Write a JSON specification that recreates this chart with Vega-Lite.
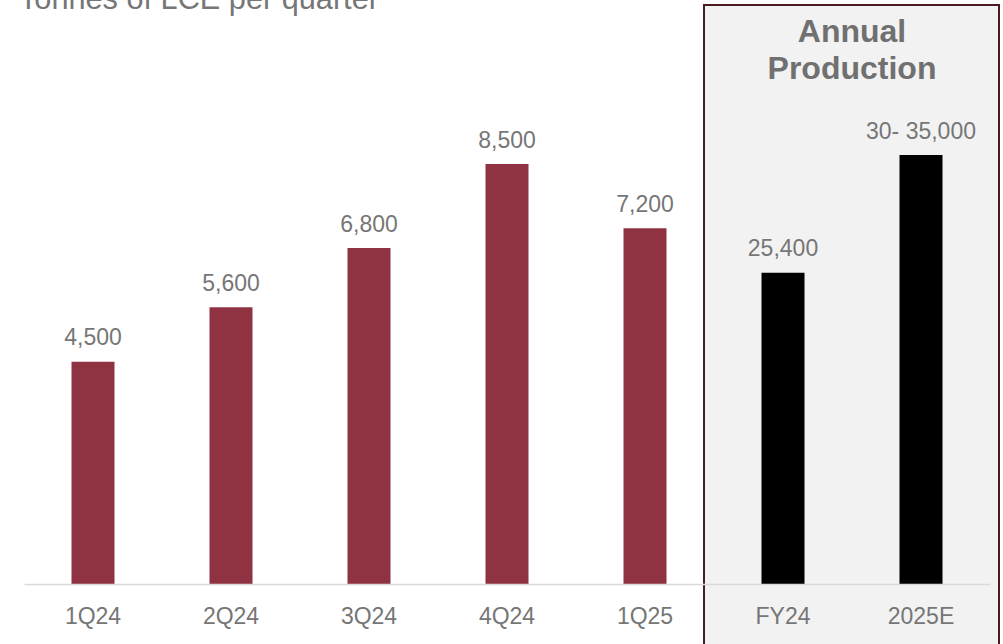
{
  "$schema": "https://vega.github.io/schema/vega-lite/v6.json",
  "width": 966,
  "height": 579,
  "autosize": "none",
  "padding": {"left": 24, "top": 5, "right": 13, "bottom": 60},
  "background": "white",
  "title": {
    "text": "Tonnes of LCE per quarter",
    "anchor": "start",
    "frame": "group",
    "baseline": "alphabetic",
    "offset": -36,
    "dx": -5,
    "font": "Liberation Sans",
    "fontSize": 30.7,
    "fontWeight": "normal",
    "color": "#767676"
  },
  "config": {
    "view": {"stroke": null},
    "text": {"font": "Liberation Sans"}
  },
  "datasets": {
    "quarterly": [
      {"period": "1Q24", "value": 4500, "label": "4,500"},
      {"period": "2Q24", "value": 5600, "label": "5,600"},
      {"period": "3Q24", "value": 6800, "label": "6,800"},
      {"period": "4Q24", "value": 8500, "label": "8,500"},
      {"period": "1Q25", "value": 7200, "label": "7,200"}
    ],
    "annual": [
      {"period": "FY24", "value": 25400, "label": "25,400"},
      {"period": "2025E", "value": 35000, "label": "30- 35,000"}
    ],
    "box": [
      {"start": "FY24", "end": "2025E", "label": "Annual\nProduction"}
    ]
  },
  "resolve": {"scale": {"y": "independent"}},
  "layer": [
    {
      "layer": [
        {
          "data": {"name": "box"},
          "mark": {"type": "rect", "fill": "#f2f2f2", "stroke": "#4a1c22", "strokeWidth": 2, "xOffset": -79, "x2Offset": 78},
          "encoding": {
            "x": {"field": "start", "type": "nominal", "sort": null, "scale": {"domain": ["1Q24", "2Q24", "3Q24", "4Q24", "1Q25", "FY24", "2025E"], "paddingInner": 0, "paddingOuter": 0},
              "axis": {"title": null, "labelAngle": 0, "labelFont": "Liberation Sans", "labelFontSize": 23, "labelColor": "#767676", "labelBaseline": "alphabetic", "labelPadding": 39, "ticks": false, "tickSize": 0, "domainColor": "#d9d9d9", "domainWidth": 1.5, "zindex": 1}},
            "x2": {"field": "end"},
            "y": {"datum": 47250, "type": "quantitative", "scale": {"domain": [0, 47250], "nice": false, "zero": false}, "axis": null},
            "y2": {"datum": -6000}
          }
        },
        {
          "data": {"name": "box"},
          "mark": {"type": "text", "align": "center", "baseline": "alphabetic", "fontSize": 32, "fontWeight": "bold", "color": "#707070", "lineBreak": "\n", "lineHeight": 37.6, "dy": 36.7},
          "encoding": {
            "x": {"field": "start", "type": "nominal", "bandPosition": 1},
            "y": {"datum": 47250, "type": "quantitative"},
            "text": {"field": "label"}
          }
        },
        {
          "data": {"name": "annual"},
          "mark": {"type": "bar", "width": 43, "color": "#000000"},
          "encoding": {
            "x": {"field": "period", "type": "nominal", "sort": null},
            "y": {"field": "value", "type": "quantitative"}
          }
        },
        {
          "data": {"name": "annual"},
          "mark": {"type": "text", "align": "center", "baseline": "alphabetic", "dy": -16.5, "fontSize": 23, "color": "#767676"},
          "encoding": {
            "x": {"field": "period", "type": "nominal", "sort": null},
            "y": {"field": "value", "type": "quantitative"},
            "text": {"field": "label"}
          }
        }
      ]
    },
    {
      "data": {"name": "quarterly"},
      "layer": [
        {
          "mark": {"type": "bar", "width": 43, "color": "#8f3343"},
          "encoding": {
            "x": {"field": "period", "type": "nominal", "sort": null},
            "y": {"field": "value", "type": "quantitative", "scale": {"domain": [0, 11720], "nice": false}, "axis": null}
          }
        },
        {
          "mark": {"type": "text", "align": "center", "baseline": "alphabetic", "dy": -16.5, "fontSize": 23, "color": "#767676"},
          "encoding": {
            "x": {"field": "period", "type": "nominal", "sort": null},
            "y": {"field": "value", "type": "quantitative"},
            "text": {"field": "label"}
          }
        }
      ]
    }
  ]
}
